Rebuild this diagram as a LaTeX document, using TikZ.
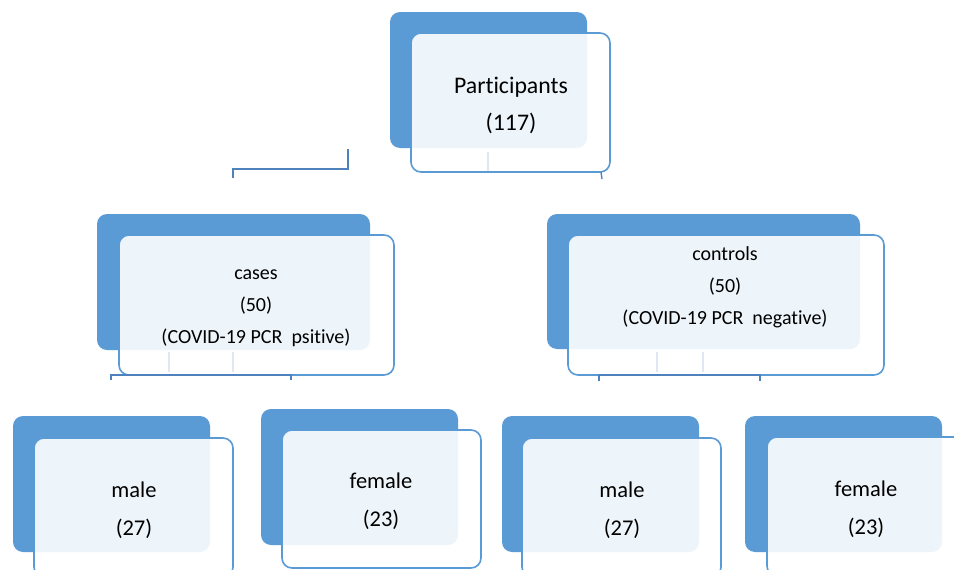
\documentclass[tikz,border=0pt]{standalone}
\usepackage{fontspec}
\setmainfont{Carlito}[Ligatures={NoCommon}]
\usepackage{xcolor}
\definecolor{chartblue}{RGB}{91, 155, 213}
\definecolor{chartline}{RGB}{79, 129, 189}
\definecolor{chartfaint}{RGB}{222, 231, 242}

\begin{document}
\begin{tikzpicture}[
    x=1pt, y=-1pt,
    backbox/.style={rectangle, rounded corners=10pt, fill=chartblue, anchor=north west,
                    inner sep=0pt, outer sep=0pt},
    frontbox/.style={rectangle, rounded corners=10pt, draw=chartblue, line width=1.6pt,
                     fill=white, fill opacity=0.9, anchor=north west, inner sep=0pt, outer sep=0pt},
    toptext/.style={align=center, font=\fontsize{23.8}{37}\selectfont},
    bigtext/.style={align=center, font=\fontsize{22.5}{38}\selectfont},
    midtext/.style={align=center, font=\fontsize{20}{32}\selectfont},
    link/.style={draw=chartline, line width=1.4pt},
    faint/.style={draw=chartfaint, line width=1.4pt}
]
    \clip (0,0) rectangle (954,570);
    \fill[white] (0,0) rectangle (954,570);

    % top level
    \node[backbox, minimum width=197pt, minimum height=136pt] (parts-back) at (390,12) {};
    \node[frontbox, minimum width=199pt, minimum height=139pt] (parts) at (411,33) {};
    \node[toptext] (parts-txt) at (511,105.5) {Participants\\(117)};

    % second level
    \node[backbox, minimum width=273pt, minimum height=136pt] (cases-back) at (97,214) {};
    \node[frontbox, minimum width=275pt, minimum height=140pt] (cases) at (119,235) {};
    \node[midtext] (cases-txt) at (256,308) {cases\\(50)\\(COVID-19 PCR\ \ psitive)};

    \node[backbox, minimum width=313pt, minimum height=135pt] (ctrl-back) at (547,214) {};
    \node[frontbox, minimum width=316pt, minimum height=140pt] (ctrl) at (568,235) {};
    \node[midtext] (ctrl-txt) at (725,287) {controls\\(50)\\(COVID-19 PCR\ \ negative)};

    % third level
    \node[backbox, minimum width=197pt, minimum height=136pt] (male1-back) at (13,416) {};
    \node[frontbox, minimum width=199pt, minimum height=139pt] (male1) at (34,438) {};
    \node[bigtext] (male1-txt) at (134,510) {male\\(27)};

    \node[backbox, minimum width=197pt, minimum height=136pt] (fem1-back) at (261,409) {};
    \node[frontbox, minimum width=199pt, minimum height=138pt] (fem1) at (282,430) {};
    \node[bigtext] (fem1-txt) at (381,501.5) {female\\(23)};

    \node[backbox, minimum width=197pt, minimum height=136pt] (male2-back) at (502,416) {};
    \node[frontbox, minimum width=199pt, minimum height=139pt] (male2) at (522,438) {};
    \node[bigtext] (male2-txt) at (622,510) {male\\(27)};

    \node[backbox, minimum width=197pt, minimum height=136pt] (fem2-back) at (745,416) {};
    \node[frontbox, minimum width=199pt, minimum height=139pt] (fem2) at (767,437) {};
    \node[bigtext] (fem2-txt) at (866,509) {female\\(23)};

    % connector ends
    \coordinate (t1) at (233,178);
    \coordinate (tk) at (348,169);
    \coordinate (t2) at (348,149);
    \coordinate (t3) at (602,179);
    \coordinate (m1) at (111,380);
    \coordinate (m2) at (291,380);
    \coordinate (n1) at (599,381);
    \coordinate (n2) at (760,381);

    \draw[faint] (488,152) -- (488,171);
    \draw[faint] (169,352) -- (169,372);
    \draw[faint] (233,352) -- (233,372);
    \draw[faint] (657,352) -- (657,372);
    \draw[faint] (703,352) -- (703,372);

    \draw[link] (t1) |- (tk) -- (t2);
    \draw[link] (parts.south east) ++(-9,0) coordinate (t0) -- (t3);
    \draw[link] (m1) |- (cases.south) -| (m2);
    \draw[link] (n1) |- (ctrl.south) -| (n2);
\end{tikzpicture}
\end{document}
